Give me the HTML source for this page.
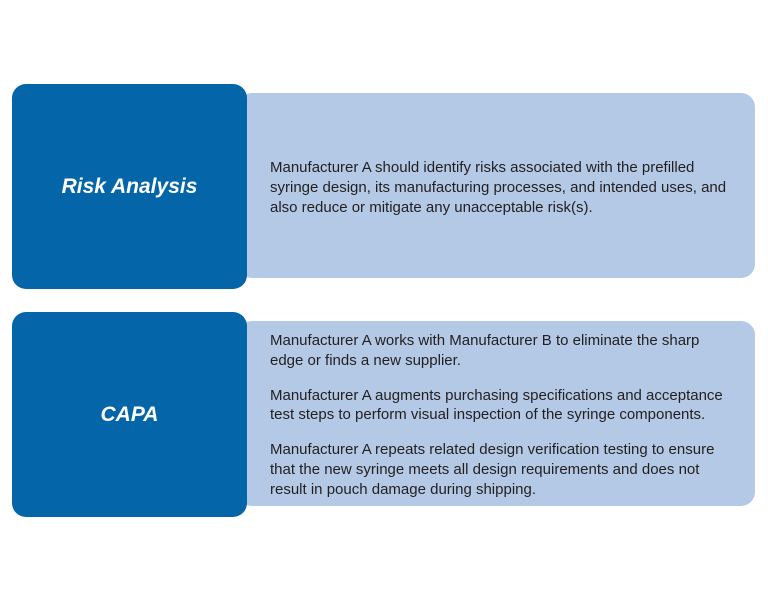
<!DOCTYPE html>
<html><head><style>
body{margin:0;width:768px;height:600px;background:#fff;position:relative;font-family:"Liberation Sans",sans-serif;overflow:hidden}
.l{position:absolute;background:#b4c9e5;border-radius:14px}
.d{position:absolute;background:#0466a8;border-radius:14px;color:#fff;font-style:italic;font-weight:bold;font-size:21px;display:flex;align-items:center;justify-content:center}
.t{position:absolute;left:270px;width:480px;font-size:15px;line-height:19.8px;color:#231f20;white-space:nowrap}
.t p{margin:0 0 15px 0}
</style></head><body>
<div class="l" style="left:238px;top:93px;width:517px;height:185px"></div>
<div class="d" style="left:12px;top:84px;width:235px;height:205px">Risk Analysis</div>
<div class="t" style="top:158px">Manufacturer A should identify risks associated with the prefilled<br>syringe design, its manufacturing processes, and intended uses, and<br>also reduce or mitigate any unacceptable risk(s).</div>
<div class="l" style="left:238px;top:321px;width:517px;height:185px"></div>
<div class="d" style="left:12px;top:312px;width:235px;height:205px">CAPA</div>
<div class="t" style="top:331px">
<p>Manufacturer A works with Manufacturer B to eliminate the sharp<br>edge or finds a new supplier.</p>
<p>Manufacturer A augments purchasing specifications and acceptance<br>test steps to perform visual inspection of the syringe components.</p>
<p>Manufacturer A repeats related design verification testing to ensure<br>that the new syringe meets all design requirements and does not<br>result in pouch damage during shipping.</p>
</div>
</body></html>
